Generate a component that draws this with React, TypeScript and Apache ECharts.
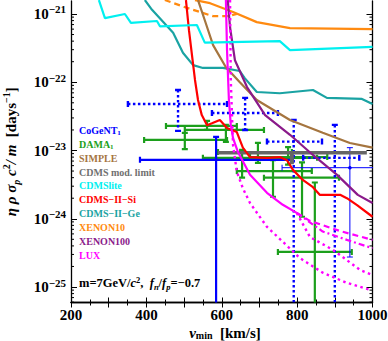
import React, { useEffect, useRef } from 'react';
import * as echarts from 'echarts';

const X_RANGE = [200, 1000];
const Y_RANGE = [5.93e-26, 1.55e-21];
const X_LABELS = [200, 400, 600, 800, 1000];

// limit curves: [v_min (km/s), value (days^-1)]
const CDMSLITE = [[274, 1.6e-21], [290, 8.7e-22], [343, 1.0e-21], [359, 7.4e-22], [428, 7.9e-22], [436, 6.6e-22], [534, 6.9e-22], [555, 3.8e-22], [754, 4.0e-22], [781, 2.95e-22], [1000, 3.3e-22]];
const CDMS_GE = [[396, 1.6e-21], [415, 1.15e-21], [471, 5.3e-22], [497, 2.7e-22], [524, 1.78e-22], [550, 1.62e-22], [603, 1.62e-22], [648, 1.46e-22], [661, 1.15e-22], [693, 7.2e-23], [754, 6.9e-23], [842, 7.7e-23], [879, 5.9e-23], [972, 5.7e-23], [1000, 4.8e-23]];
const XENON10 = [[529, 1.6e-21], [569, 1.44e-21], [630, 1.07e-21], [693, 7.6e-22], [781, 6.2e-22], [1000, 6.0e-22]];
const XENON10_ALT = [[449, 1.6e-21], [508, 1.23e-21], [542, 1.07e-21], [577, 9.3e-22], [616, 9.3e-22], [640, 1.0e-21]];
const SIMPLE = [[537, 1.6e-21], [555, 8.1e-22], [577, 3.5e-22], [611, 1.66e-22], [648, 1.0e-22], [693, 5.5e-23], [781, 2.8e-23], [868, 1.82e-23], [940, 1.29e-23], [1000, 1.1e-23]];
const XENON100 = [[616, 1.6e-21], [622, 6.4e-22], [635, 2.1e-22], [667, 8.5e-23], [715, 3.3e-23], [781, 1.7e-23], [842, 8.6e-24], [906, 4.4e-24], [961, 2.24e-24], [1000, 1.7e-24]];
const CDMS_SI = [[505, 1.6e-21], [513, 5.8e-22], [521, 2.5e-22], [529, 1.08e-22], [537, 5.5e-23], [547, 3.3e-23], [561, 2.35e-23], [574, 2.5e-23], [595, 2.8e-23], [614, 2.14e-23], [640, 1.86e-23], [656, 1.1e-23], [675, 8.0e-24], [720, 7.8e-24], [754, 8.0e-24], [773, 7.2e-24], [789, 5.2e-24], [815, 3.7e-24], [842, 2.9e-24], [860, 2.24e-24], [914, 2.24e-24], [932, 2.0e-24], [959, 1.58e-24], [1000, 1.07e-24]];
const LUX_SOLID = [[611, 1.6e-21], [614, 2.95e-22], [619, 5.5e-23], [624, 2.37e-23], [630, 1.52e-23], [643, 9.5e-24], [675, 4.4e-24], [720, 2.4e-24], [762, 1.6e-24], [799, 1.22e-24]];
const LUX_DASHED = [[799, 1.22e-24], [834, 9.3e-25], [914, 6.6e-25], [1000, 4.9e-25]];
const LUX_DASHDOT = [[799, 1.22e-24], [868, 6.5e-25], [932, 4.9e-25], [1000, 3.7e-25]];
const LUX_DOTTED_A = [[799, 1.22e-24], [834, 5.4e-25], [895, 3.5e-25], [967, 1.78e-25], [1000, 1.5e-25]];
const LUX_DOTTED_B = [[622, 1.6e-21], [624, 1.07e-22], [630, 1.2e-23], [640, 4.9e-24], [656, 2.8e-24], [675, 1.7e-24], [720, 7.6e-25], [762, 4.6e-25], [807, 2.66e-25], [868, 1.62e-25], [932, 1.15e-25], [993, 9.1e-26]];
const CDMS_MOD = [[590, 9.3e-24], [985, 9.3e-24]];
const CDMS_MOD_NOTCH = [[786, 9.3e-24], [786, 6.3e-24]];

// measured points: [v centre, value centre, v low, v high, value low (0 = below plot), value high]
const DAMA = [
  [561, 2.29e-23, 452, 640, 2.0e-23, 2.71e-23],
  [611, 2.0e-23, 502, 712, 1.34e-23, 2.37e-23],
  [502, 1.43e-23, 394, 614, 1.05e-23, 1.81e-23],
  [696, 9.5e-24, 590, 786, 6.6e-24, 1.29e-23],
  [654, 7.8e-24, 550, 853, 4.0e-24, 1.02e-23],
  [776, 8.0e-24, 675, 880, 6.2e-24, 1.12e-23],
  [736, 5.0e-24, 640, 839, 2.1e-24, 7.2e-24],
  [813, 4.0e-24, 712, 911, 1.07e-24, 6.7e-24],
  [847, 3.27e-25, 749, 945, 0, 3.4e-24],
];
const COGENT = [[585, 7.3e-24, 383, 789, 0, 1.58e-23]];
const COGENT_THIN = [[940, 5.6e-24, 760, 1010, 2.75e-25, 1.1e-23]];
const COGENT_DOTTED = [
  [484, 4.8e-23, 351, 614, 1.94e-23, 7.7e-23],
  [662, 3.55e-23, 574, 749, 2.0e-23, 5.9e-23],
  [791, 1.35e-23, 720, 866, 0, 2.8e-23],
  [900, 7.8e-24, 816, 965, 0, 2.37e-23],
];

const LEGEND_NAMES = ['CoGeNT', 'DAMA', 'SIMPLE', 'CDMS mod. limit', 'CDMSlite', 'CDMS−II−Si', 'CDMS−II−Ge', 'XENON10', 'XENON100', 'LUX'];
const LEGEND_SUBS = ['1', '1', '', '', '', '', '', '', '', ''];

const FONT = "'Liberation Serif', 'DejaVu Serif', serif";
const C = {
  blue: '#0000ff', green: '#1c9f1c', brown: '#a5753f', gray: '#666666', cyan: '#00f0f0',
  red: '#ff0000', teal: '#1aa3a3', orange: '#ff8a10', purple: '#8a1a8a', magenta: '#ff00ff',
};
const LEGEND_COLORS = [C.blue, C.green, C.brown, '#707070', C.cyan, C.red, C.teal, C.orange, C.purple, C.magenta];

const makeErr = (color: string, lw: number, dash: number[] | null, dot: boolean) => (params: any, api: any) => {
  const cs = params.coordSys;
  const cx = api.value(0), cy = api.value(1);
  const p = api.coord([cx, cy]);
  const xl = api.coord([api.value(2), cy])[0];
  const xh = api.coord([api.value(3), cy])[0];
  const ylv = api.value(4);
  const yl = ylv > 0 ? api.coord([cx, ylv])[1] : cs.y + cs.height + 10;
  const yh = api.coord([cx, api.value(5)])[1];
  const style: any = { stroke: color, lineWidth: lw, fill: null };
  if (dash) style.lineDash = dash;
  const capStyle: any = { stroke: color, lineWidth: lw, fill: null };
  const cap = 3;
  const L = (x1: number, y1: number, x2: number, y2: number, s: any) => ({ type: 'line', shape: { x1, y1, x2, y2 }, style: s });
  const children: any[] = [
    L(xl, p[1], xh, p[1], style),
    L(p[0], yh, p[0], yl, style),
    L(xl, p[1] - cap, xl, p[1] + cap, capStyle),
    L(xh, p[1] - cap, xh, p[1] + cap, capStyle),
    L(p[0] - cap, yh, p[0] + cap, yh, capStyle),
  ];
  if (ylv > 0) children.push(L(p[0] - cap, yl, p[0] + cap, yl, capStyle));
  if (dot) children.push({ type: 'circle', shape: { cx: p[0], cy: p[1], r: 1.8 }, style: { fill: color } });
  return { type: 'group', children };
};

const lineSeries = (data: number[][], color: string, width: number, type: any = 'solid', z = 3) => ({
  type: 'line', data, symbol: 'none', showSymbol: false, silent: true, clip: true,
  lineStyle: { color, width, type, cap: 'butt' }, z,
});

const errSeries = (data: number[][], render: any, z = 2) => ({
  type: 'custom', coordinateSystem: 'cartesian2d', data, renderItem: render,
  encode: { x: 0, y: 1 }, clip: true, silent: true, z,
});

export default function App() {
  const ref = useRef<HTMLDivElement>(null);
  useEffect(() => {
    if (!ref.current) return;
    const chart = echarts.init(ref.current, null, { renderer: 'svg' });
    const yLabel = (v: number) => {
      const e = Math.log10(v);
      const r = Math.round(e);
      if (Math.abs(e - r) > 1e-6) return '';
      return `{b|10}{s|${r < 0 ? '−' : ''}${Math.abs(r)}}`;
    };
    const axisLine = { show: true, lineStyle: { color: '#000', width: 1.3 } };
    const option: any = {
      animation: false,
      backgroundColor: '#ffffff',
      grid: { left: 71, right: 15.5, top: 1, bottom: 38.5, containLabel: false, outerBoundsMode: 'none' },
      xAxis: [
        {
          type: 'value', min: X_RANGE[0], max: X_RANGE[1], interval: 100,
          axisLine, splitLine: { show: false },
          axisTick: { inside: true, length: 5, lineStyle: { color: '#000' } },
          minorTick: { show: true, splitNumber: 2, length: 3, lineStyle: { color: '#000' } },
          axisLabel: {
            margin: 5, color: '#000', fontFamily: FONT, fontWeight: 'bold', fontSize: 15,
            formatter: (v: number) => (X_LABELS.indexOf(v) >= 0 ? String(v) : ''),
          },
        },
        {
          type: 'value', position: 'top', min: X_RANGE[0], max: X_RANGE[1], interval: 100,
          axisLine, splitLine: { show: false },
          axisTick: { inside: true, length: 5, lineStyle: { color: '#000' } },
          minorTick: { show: true, splitNumber: 2, length: 3, lineStyle: { color: '#000' } },
          axisLabel: { show: false },
        },
      ],
      yAxis: [
        {
          type: 'log', logBase: 10, min: Y_RANGE[0], max: Y_RANGE[1],
          axisLine, splitLine: { show: false },
          axisTick: { inside: true, length: 6, lineStyle: { color: '#000' } },
          axisLabel: {
            margin: 5, color: '#000', formatter: yLabel, showMinLabel: false, showMaxLabel: false,
            rich: {
              b: { fontFamily: FONT, fontWeight: 'bold', fontSize: 15, lineHeight: 20, color: '#000' },
              s: { fontFamily: FONT, fontWeight: 'bold', fontSize: 11, verticalAlign: 'top', lineHeight: 6, color: '#000' },
            },
          },
          name: '{i|η ρ σ}{sub|p}{i| c}{sup|2}{i|/ m}{n|  [days}{sup|−1}{n|]}',
          nameLocation: 'middle', nameRotate: 90, nameGap: 50,
          nameTextStyle: {
            color: '#000', fontFamily: FONT, fontWeight: 'bold', fontSize: 15,
            rich: {
              i: { fontFamily: FONT, fontWeight: 'bold', fontStyle: 'italic', fontSize: 15, lineHeight: 20 },
              n: { fontFamily: FONT, fontWeight: 'bold', fontSize: 15, lineHeight: 20 },
              sub: { fontFamily: FONT, fontWeight: 'bold', fontStyle: 'italic', fontSize: 10, verticalAlign: 'bottom', lineHeight: 8 },
              sup: { fontFamily: FONT, fontWeight: 'bold', fontSize: 10, verticalAlign: 'top', lineHeight: 8 },
            },
          },
        },
        {
          type: 'log', logBase: 10, position: 'right', min: Y_RANGE[0], max: Y_RANGE[1],
          axisLine, splitLine: { show: false },
          axisTick: { inside: true, length: 6, lineStyle: { color: '#000' } },
          axisLabel: { show: false },
        },
      ],
      series: [
        errSeries(DAMA, makeErr(C.green, 2.2, null, false), 2),
        errSeries(COGENT_DOTTED, makeErr(C.blue, 2.4, [2.5, 2.5], false), 2),
        errSeries(COGENT, makeErr(C.blue, 2.2, null, false), 2),
        errSeries(COGENT_THIN, makeErr(C.blue, 1, null, true), 2),
        lineSeries(CDMS_MOD, C.gray, 3.5),
        lineSeries(CDMS_MOD_NOTCH, C.gray, 4),
        lineSeries(CDMS_GE, C.teal, 2.2),
        lineSeries(XENON10, C.orange, 2.2),
        lineSeries(XENON10_ALT, C.orange, 2.2, [6, 4]),
        lineSeries(SIMPLE, C.brown, 2.2),
        lineSeries(XENON100, C.purple, 2.2),
        lineSeries(CDMS_SI, C.red, 2.2),
        lineSeries(LUX_SOLID, C.magenta, 2.2),
        lineSeries(LUX_DASHED, C.magenta, 2.2, [6, 4]),
        lineSeries(LUX_DASHDOT, C.magenta, 2.2, [6, 3, 2, 3]),
        lineSeries(LUX_DOTTED_A, C.magenta, 2.4, [2.5, 3.5]),
        lineSeries(LUX_DOTTED_B, C.magenta, 2.4, [2.5, 3.5]),
        lineSeries(CDMSLITE, C.cyan, 2.2, 'solid', 4),
      ],
    };
    chart.setOption(option);

    // log minor ticks on left and right frames
    const xl = chart.convertToPixel({ xAxisIndex: 0 }, X_RANGE[0]) as number;
    const xr = chart.convertToPixel({ xAxisIndex: 0 }, X_RANGE[1]) as number;
    const els: any[] = [];
    for (let e = -26; e <= -21; e++) {
      for (let k = 2; k <= 9; k++) {
        const v = k * Math.pow(10, e);
        if (v <= Y_RANGE[0] || v >= Y_RANGE[1]) continue;
        const y = chart.convertToPixel({ yAxisIndex: 0 }, v) as number;
        els.push({ type: 'line', shape: { x1: xl, y1: y, x2: xl + 3, y2: y }, style: { stroke: '#000', lineWidth: 1 }, silent: true });
        els.push({ type: 'line', shape: { x1: xr - 3, y1: y, x2: xr, y2: y }, style: { stroke: '#000', lineWidth: 1 }, silent: true });
      }
    }
    LEGEND_NAMES.forEach((name, i) => {
      const sub = LEGEND_SUBS[i];
      els.push({
        type: 'text', x: 79, y: 130.3 + i * 13.9, silent: true, z: 10,
        style: {
          text: sub ? `{n|${name}}{s|${sub}}` : `{n|${name}}`,
          fill: LEGEND_COLORS[i], verticalAlign: 'middle', align: 'left',
          fontFamily: FONT, fontWeight: 'bold', fontSize: 10,
          rich: {
            n: { fontFamily: FONT, fontWeight: 'bold', fontSize: 10, lineHeight: 12, fill: LEGEND_COLORS[i] },
            s: { fontFamily: FONT, fontWeight: 'bold', fontSize: 7, verticalAlign: 'bottom', lineHeight: 7, fill: LEGEND_COLORS[i] },
          },
        },
      });
    });
    els.push({
      type: 'text', x: 79, y: 283, silent: true, z: 10,
      style: {
        text: '{n|m=7GeV/}{i|c}{sup|2}{n|,  }{i|f}{sub|n}{n|/}{i|f}{sub|p}{n|=−0.7}',
        fill: '#000', verticalAlign: 'middle', align: 'left',
        fontFamily: FONT, fontWeight: 'bold', fontSize: 12,
        rich: {
          n: { fontFamily: FONT, fontWeight: 'bold', fontSize: 12.5, lineHeight: 16 },
          i: { fontFamily: FONT, fontWeight: 'bold', fontStyle: 'italic', fontSize: 12.5, lineHeight: 16 },
          sup: { fontFamily: FONT, fontWeight: 'bold', fontSize: 8.5, verticalAlign: 'top', lineHeight: 7 },
          sub: { fontFamily: FONT, fontWeight: 'bold', fontStyle: 'italic', fontSize: 8.5, verticalAlign: 'bottom', lineHeight: 7 },
        },
      },
    });
    // x-axis title
    els.push({
      type: 'text', x: 225, y: 332.5, silent: true, z: 10,
      style: {
        text: '{i|v}{sub|min}{n|  [km/s]}',
        fill: '#000', verticalAlign: 'middle', align: 'center',
        fontFamily: FONT, fontWeight: 'bold', fontSize: 15,
        rich: {
          i: { fontFamily: FONT, fontWeight: 'bold', fontStyle: 'italic', fontSize: 15, lineHeight: 16 },
          sub: { fontFamily: FONT, fontWeight: 'bold', fontSize: 10, verticalAlign: 'bottom', lineHeight: 8 },
          n: { fontFamily: FONT, fontWeight: 'bold', fontSize: 15, lineHeight: 16 },
        },
      },
    });
    chart.setOption({ graphic: { elements: els } });

    return () => chart.dispose();
  }, []);
  return <div ref={ref} style={{ position: 'fixed', left: 0, top: 0, width: 388, height: 341, background: '#fff' }} />;
}
